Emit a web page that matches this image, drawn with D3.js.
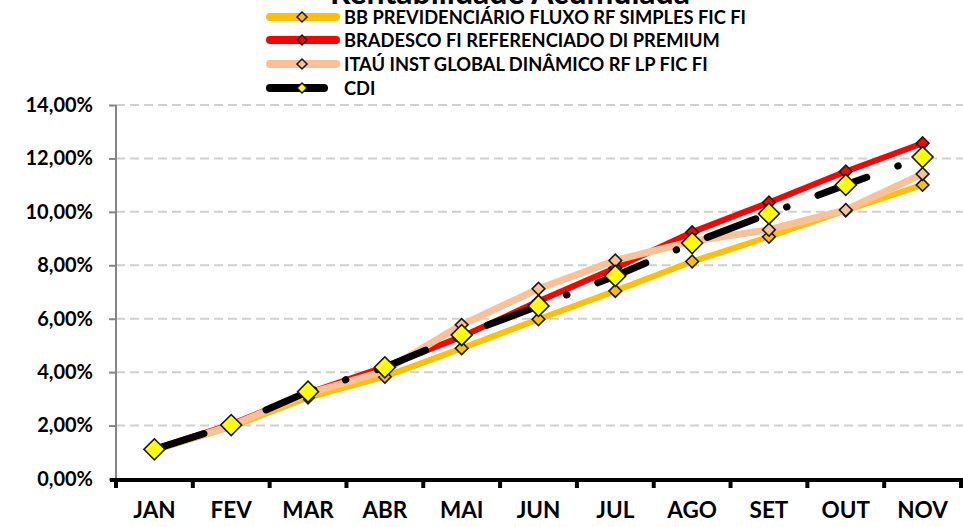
<!DOCTYPE html>
<html>
<head>
<meta charset="utf-8">
<script src="https://cdn.jsdelivr.net/npm/d3@7/dist/d3.min.js"></script>
<style>
  html, body { margin: 0; padding: 0; background: #ffffff; }
  svg { display: block; }
  text { font-family: Lato, "Open Sans", sans-serif; font-weight: bold; fill: #000; }
</style>
</head>
<body>
<svg id="chart" width="963" height="527"></svg>
<script>
const title = "Rentabilidade Acumulada";
const months = ["JAN","FEV","MAR","ABR","MAI","JUN","JUL","AGO","SET","OUT","NOV"];
const yTicks = [0, 0.02, 0.04, 0.06, 0.08, 0.10, 0.12, 0.14];

const seriesNames = [
  "BB PREVIDENCIÁRIO FLUXO RF SIMPLES FIC FI",
  "BRADESCO FI REFERENCIADO DI PREMIUM",
  "ITAÚ INST GLOBAL DINÂMICO RF LP FIC FI",
  "CDI"
];
const bbValues       = [0.0108, 0.0195, 0.0305, 0.0383, 0.0489, 0.0598, 0.0704, 0.0814, 0.0907, 0.1005, 0.1101];
const bradescoValues = [0.0112, 0.0205, 0.0322, 0.0420, 0.0533, 0.0665, 0.0790, 0.0924, 0.1035, 0.1151, 0.1257];
const itauValues     = [0.0108, 0.0200, 0.0320, 0.0405, 0.0577, 0.0712, 0.0818, 0.0890, 0.0933, 0.1007, 0.1142];
const cdiValues      = [0.0111, 0.0202, 0.0327, 0.0418, 0.0539, 0.0648, 0.0760, 0.0883, 0.0993, 0.1101, 0.1205];

const series = [
  { name: seriesNames[0], values: bbValues,       color: "#FFC000", width: 6, marker: "#FFC000", msize: 80,  dash: null },
  { name: seriesNames[1], values: bradescoValues, color: "#FF0000", width: 6, marker: "#FF0000", msize: 80,  dash: null },
  { name: seriesNames[2], values: itauValues,     color: "#F9C195", width: 7, marker: "#F9C195", msize: 80,  dash: null },
  { name: seriesNames[3], values: cdiValues,      color: "#000000", width: 7, marker: "#FFFF00", msize: 220, dash: "52 33 0.5 33" }
];

const svg = d3.select("#chart");

const x = d3.scaleBand().domain(months).range([116, 961]).paddingInner(0).paddingOuter(0);
const y = d3.scaleLinear().domain([0, 0.14]).range([479, 105]);

// title (cut off at top, as in the original)
svg.append("text")
  .attr("x", 510).attr("y", 4)
  .attr("text-anchor", "middle")
  .style("font-size", "32px")
  .text(title);

// gridlines
svg.append("g").selectAll("line")
  .data(yTicks.filter(d => d > 0))
  .join("line")
  .attr("x1", 116).attr("x2", 963)
  .attr("y1", d => y(d)).attr("y2", d => y(d))
  .attr("stroke", "#D0D0D0")
  .attr("stroke-width", 2)
  .attr("stroke-dasharray", "9 5");

// y axis
const yAxis = d3.axisLeft(y)
  .tickValues(yTicks)
  .tickSize(7)
  .tickPadding(16)
  .tickFormat(d => (d * 100).toFixed(2).replace(".", ",") + "%");
const gy = svg.append("g").attr("transform", "translate(116,0)").call(yAxis);
gy.selectAll("path, line").attr("stroke", "#868686").attr("stroke-width", 2);
gy.select(".domain").attr("d", "M0," + y(0.14) + "V" + y(0));
gy.selectAll("text").style("font-size", "20px").style("font-family", "Lato, sans-serif").style("font-weight", "bold").attr("fill", "#000");

// x axis
const xAxis = d3.axisBottom(x).tickSize(0).tickPadding(22);
const gx = svg.append("g").attr("transform", "translate(0,480)").call(xAxis);
gx.select(".domain").remove();
gx.selectAll("text").style("font-size", "22.5px").style("font-family", "Lato, sans-serif").style("font-weight", "bold").attr("fill", "#000");
const boundaries = months.map(m => x(m)).concat([x.range()[1]]);
svg.append("g").selectAll("line")
  .data(boundaries)
  .join("line")
  .attr("x1", d => d).attr("x2", d => d)
  .attr("y1", 480).attr("y2", 488)
  .attr("stroke", "#000").attr("stroke-width", 4);
svg.append("line")
  .attr("x1", 110).attr("x2", 963)
  .attr("y1", 480).attr("y2", 480)
  .attr("stroke", "#000").attr("stroke-width", 4);

// lines and markers
const line = d3.line()
  .x((d, i) => x(months[i]) + x.bandwidth() / 2)
  .y(d => y(d));

const diamond = s => d3.symbol().type(d3.symbolSquare).size(s)();

series.forEach(s => {
  const g = svg.append("g");
  g.append("path")
    .attr("d", line(s.values))
    .attr("fill", "none")
    .attr("stroke", s.color)
    .attr("stroke-width", s.width)
    .attr("stroke-linejoin", "round")
    .attr("stroke-linecap", "round")
    .attr("stroke-dasharray", s.dash);
  g.selectAll("path.m")
    .data(s.values)
    .join("path")
    .attr("class", "m")
    .attr("d", diamond(s.msize))
    .attr("transform", (d, i) => `translate(${x(months[i]) + x.bandwidth() / 2},${y(d)}) rotate(45)`)
    .attr("fill", s.marker)
    .attr("stroke", "#1a1a1a")
    .attr("stroke-width", 1.6);
});

// legend
const legendY = [17, 40, 64, 88];
const lg = svg.append("g");
series.forEach((s, i) => {
  const yy = legendY[i];
  lg.append("line")
    .attr("x1", 270).attr("x2", s.dash ? 324 : 336)
    .attr("y1", yy).attr("y2", yy)
    .attr("stroke", s.color)
    .attr("stroke-width", 8)
    .attr("stroke-linecap", "round");
  lg.append("path")
    .attr("d", diamond(50))
    .attr("transform", `translate(302,${yy}) rotate(45)`)
    .attr("fill", s.marker)
    .attr("stroke", "#1a1a1a")
    .attr("stroke-width", 1.5);
  lg.append("text")
    .attr("x", 344).attr("y", yy + 6.5)
    .style("font-size", "18.3px")
    .text(s.name);
});
</script>
</body>
</html>
